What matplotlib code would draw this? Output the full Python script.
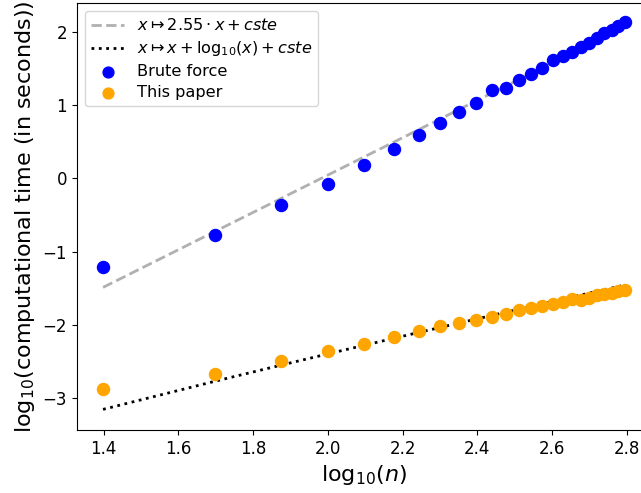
import numpy as np
import matplotlib
matplotlib.use("Agg")
import matplotlib.pyplot as plt

# problem sizes n (x axis is log10(n))
n_values = [25, 50, 75, 100, 125, 150, 175, 200, 225, 250, 275, 300, 325,
            350, 375, 400, 425, 450, 475, 500, 525, 550, 575, 600, 625]

# log10 of computational time (seconds)
brute_force = [-1.21, -0.77, -0.37, -0.08, 0.18, 0.40, 0.59, 0.75, 0.90,
               1.03, 1.21, 1.24, 1.34, 1.43, 1.51, 1.61, 1.67, 1.73, 1.80,
               1.85, 1.92, 1.98, 2.03, 2.08, 2.13]
this_paper = [-2.88, -2.68, -2.49, -2.36, -2.27, -2.17, -2.08, -2.02, -1.97,
              -1.93, -1.89, -1.86, -1.80, -1.77, -1.75, -1.72, -1.69, -1.65,
              -1.66, -1.63, -1.59, -1.58, -1.56, -1.54, -1.53]

# fitted constants of the two reference curves
slope_brute = 2.55
cste_brute = -5.055
cste_paper = -4.70

x = np.log10(n_values)
fit_brute = slope_brute * x + cste_brute
fit_paper = x + np.log10(x) + cste_paper

fig = plt.figure(figsize=(6.41, 4.93), dpi=100)
ax = fig.add_axes([0.120, 0.128, 0.896, 0.866])

ax.plot(x, fit_brute, linestyle="--", color="#b0b0b0", linewidth=2,
        label=r"$x \mapsto 2.55 \cdot x + cste$")
ax.plot(x, fit_paper, linestyle=":", color="black", linewidth=2,
        label=r"$x \mapsto x + \mathrm{log}_{10}(x) + cste$")
ax.scatter(x, brute_force, s=75, color="blue", label="Brute force", zorder=3)
ax.scatter(x, this_paper, s=75, color="orange", label="This paper", zorder=3)

ax.set_xlim(1.328, 2.866)
ax.set_ylim(-3.437, 2.396)
ax.set_xticks([1.4, 1.6, 1.8, 2.0, 2.2, 2.4, 2.6, 2.8])
ax.set_yticks([-3, -2, -1, 0, 1, 2])
ax.tick_params(labelsize=12)
ax.set_xlabel(r"$\mathrm{log}_{10}(n)$", fontsize=16)
ax.set_ylabel(r"$\mathrm{log}_{10}$(computational time (in seconds))", fontsize=16)
ax.legend(loc="upper left", fontsize=11.6, labelspacing=0.36, markerscale=0.9)

fig.savefig("out.png", dpi=100)
